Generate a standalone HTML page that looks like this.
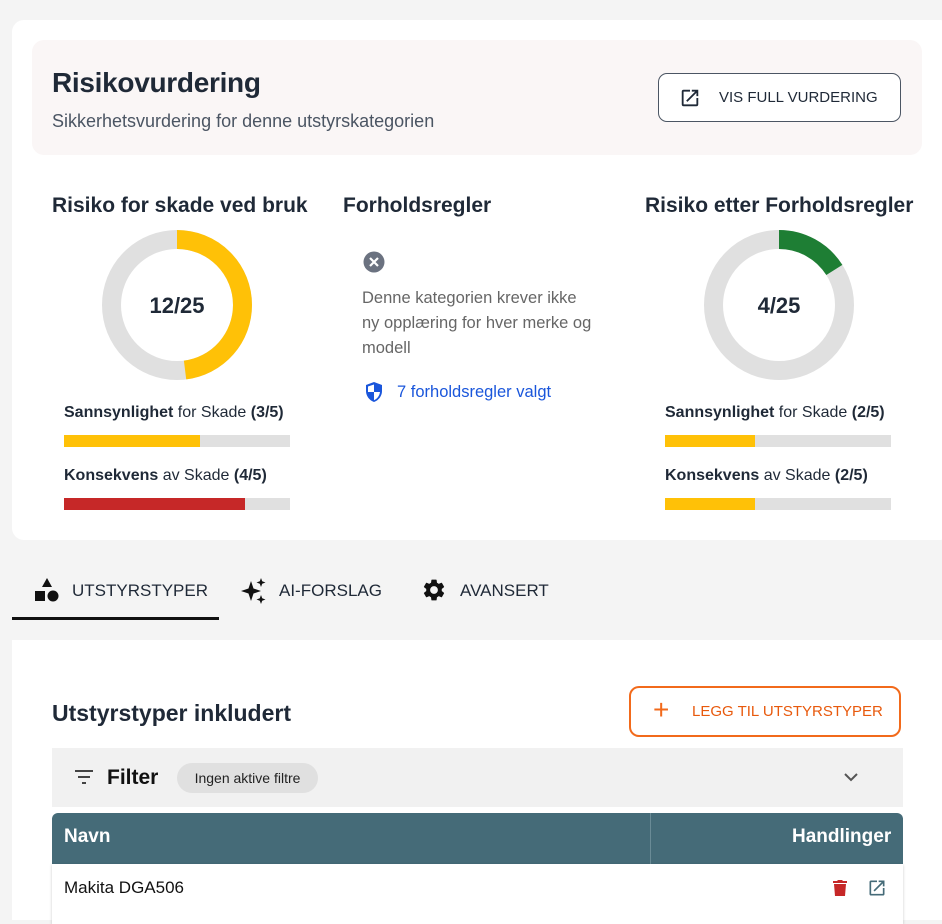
<!DOCTYPE html>
<html><head><meta charset="utf-8"><style>
*{box-sizing:border-box;margin:0;padding:0}
body{width:942px;height:910px;background:#f4f4f4;font-family:"Liberation Sans",sans-serif;color:#222b38;position:relative;overflow:hidden}
.a{position:absolute}
.card{left:12px;top:20px;width:940px;height:520px;background:#fff;border-radius:12px}
.hdr{left:32px;top:40px;width:890px;height:115px;background:#faf6f6;border-radius:12px}
h1{font-size:28px;font-weight:bold;color:#1f2937;letter-spacing:-0.3px}
.sub{font-size:18px;color:#4b5563}
.btn{left:658px;top:73px;width:243px;height:49px;border:1.5px solid #4b5563;border-radius:9px;background:#fff;font-size:15px;color:#1f2937}
h2{font-size:21px;font-weight:bold;color:#1f2937;white-space:nowrap}
.lbl{font-size:16px;color:#1f2937;white-space:nowrap}
.bar{height:12px;width:226px;background:#e0e0e0}
.bar i{display:block;height:100%}
.mid{font-size:16.5px;color:#666;line-height:25px}
.tab{font-size:17px;color:#1f2937;top:581px}
</style></head><body>
<div class="a card"></div>
<div class="a hdr"></div>
<h1 class="a" style="left:52px;top:67px">Risikovurdering</h1>
<div class="a sub" style="left:52px;top:111px">Sikkerhetsvurdering for denne utstyrskategorien</div>
<div class="a btn">
<svg class="a" style="left:20px;top:13px" width="22" height="22" viewBox="0 0 24 24"><path d="M19 19H5V5h7V3H5a2 2 0 0 0-2 2v14a2 2 0 0 0 2 2h14a2 2 0 0 0 2-2v-7h-2v7zM14 3v2h3.6l-9.8 9.8 1.4 1.4L19 6.4V10h2V3h-7z" fill="#1f2937"/></svg>
<span class="a" style="left:60px;top:15px">VIS FULL VURDERING</span></div>

<h2 class="a" style="left:52px;top:194px">Risiko for skade ved bruk</h2>
<h2 class="a" style="left:343px;top:194px">Forholdsregler</h2>
<h2 class="a" style="left:645px;top:194px">Risiko etter Forholdsregler</h2>

<svg class="a" style="left:102px;top:230px" width="150" height="150"><circle cx="75" cy="75" r="65.5" fill="none" stroke="#e0e0e0" stroke-width="19"/><circle cx="75" cy="75" r="65.5" fill="none" stroke="#ffc107" stroke-width="19" stroke-dasharray="197.6 500" transform="rotate(-90 75 75)"/><text x="75" y="83" text-anchor="middle" font-size="22" font-weight="bold" fill="#1f2937" font-family="Liberation Sans">12/25</text></svg>
<svg class="a" style="left:704px;top:230px" width="150" height="150"><circle cx="75" cy="75" r="65.5" fill="none" stroke="#e0e0e0" stroke-width="19"/><circle cx="75" cy="75" r="65.5" fill="none" stroke="#1e7e34" stroke-width="19" stroke-dasharray="65.9 500" transform="rotate(-90 75 75)"/><text x="75" y="83" text-anchor="middle" font-size="22" font-weight="bold" fill="#1f2937" font-family="Liberation Sans">4/25</text></svg>

<div class="a lbl" style="left:64px;top:404px"><b>Sannsynlighet</b> for Skade <b>(3/5)</b></div>
<div class="a bar" style="left:64px;top:435px"><i style="width:60%;background:#ffc107"></i></div>
<div class="a lbl" style="left:64px;top:467px"><b>Konsekvens</b> av Skade <b>(4/5)</b></div>
<div class="a bar" style="left:64px;top:498px"><i style="width:80%;background:#c62828"></i></div>
<div class="a lbl" style="left:665px;top:404px"><b>Sannsynlighet</b> for Skade <b>(2/5)</b></div>
<div class="a bar" style="left:665px;top:435px"><i style="width:40%;background:#ffc107"></i></div>
<div class="a lbl" style="left:665px;top:467px"><b>Konsekvens</b> av Skade <b>(2/5)</b></div>
<div class="a bar" style="left:665px;top:498px"><i style="width:40%;background:#ffc107"></i></div>

<svg class="a" style="left:363px;top:251px" width="22" height="22"><circle cx="11" cy="11" r="10.5" fill="#6b7280"/><path d="M7 7l8 8M15 7l-8 8" stroke="#fff" stroke-width="2.2"/></svg>
<div class="a mid" style="left:362px;top:286px;width:232px">Denne kategorien krever ikke ny opplæring for hver merke og modell</div>
<svg class="a" style="left:364px;top:381px" width="20" height="22" viewBox="0 0 20 22"><path d="M10 1L2 4v6c0 5 3.5 9.5 8 11 4.5-1.5 8-6 8-11V4z" fill="#1a56db"/><path d="M10 3.5v7.5H4V5.5zM10 11h6c-.5 3.8-3 7-6 8.2z" fill="#fff"/></svg>
<div class="a" style="left:397px;top:383px;font-size:16.5px;color:#1a56db">7 forholdsregler valgt</div>

<svg class="a" style="left:34px;top:577px" width="26" height="26" viewBox="0 0 26 26"><path d="M13 1l5 9H8z" fill="#111"/><rect x="1" y="14" width="10" height="10" fill="#111"/><circle cx="19" cy="19" r="5.5" fill="#111"/></svg>
<div class="a tab" style="left:72px">UTSTYRSTYPER</div>
<svg class="a" style="left:240px;top:577px" width="28" height="28" viewBox="0 0 28 28"><path d="M11 4l2.5 7.5L21 14l-7.5 2.5L11 24l-2.5-7.5L1 14l7.5-2.5z" fill="#111"/><path d="M21 1l1.2 3.3 3.3 1.2-3.3 1.2L21 10l-1.2-3.3-3.3-1.2 3.3-1.2zM21 18l1.2 3.3 3.3 1.2-3.3 1.2L21 27l-1.2-3.3-3.3-1.2 3.3-1.2z" fill="#111"/></svg>
<div class="a tab" style="left:279px">AI-FORSLAG</div>
<svg class="a" style="left:421px;top:577px" width="26" height="26" viewBox="0 0 24 24"><path d="M19.14 12.94c.04-.3.06-.61.06-.94 0-.32-.02-.64-.07-.94l2.03-1.580a.49.49 0 0 0 .12-.61l-1.920-3.320a.49.49 0 0 0-.59-.22l-2.390.96c-.5-.38-1.030-.7-1.620-.94l-.36-2.540a.48.48 0 0 0-.48-.41h-3.840c-.24 0-.43.17-.47.41l-.36 2.540c-.59.24-1.130.57-1.620.94l-2.390-.96a.48.48 0 0 0-.59.22L2.74 8.87c-.12.21-.08.47.12.61l2.030 1.580c-.05.3-.09.63-.09.94s.02.64.07.94l-2.030 1.580a.49.49 0 0 0-.12.61l1.920 3.320c.12.22.37.29.59.22l2.390-.96c.5.38 1.030.7 1.620.94l.36 2.540c.05.24.24.41.48.41h3.840c.24 0 .44-.17.47-.41l.36-2.540c.59-.24 1.130-.56 1.620-.94l2.390.96c.22.08.47 0 .59-.22l1.920-3.320c.12-.22.07-.47-.12-.61l-2.010-1.580zM12 15.6A3.6 3.6 0 1 1 12 8.4a3.6 3.6 0 0 1 0 7.2z" fill="#111"/></svg>
<div class="a tab" style="left:460px">AVANSERT</div>
<div class="a" style="left:12px;top:617px;width:207px;height:3px;background:#111"></div>

<div class="a" style="left:12px;top:640px;width:940px;height:280px;background:#fff"></div>
<div class="a" style="left:52px;top:700px;font-size:23px;font-weight:bold;color:#1f2937">Utstyrstyper inkludert</div>
<div class="a" style="left:629px;top:686px;width:272px;height:51px;border:2px solid #f26a1b;border-radius:10px"></div>
<div class="a" style="left:653px;top:696px;font-size:28px;color:#f26a1b;line-height:28px">+</div>
<div class="a" style="left:692px;top:703px;font-size:15px;color:#e8590c">LEGG TIL UTSTYRSTYPER</div>
<div class="a" style="left:52px;top:748px;width:851px;height:59px;background:#f1f1f1"></div>
<svg class="a" style="left:74px;top:769px" width="20" height="16"><path d="M1 2h18M4 8h12M8 14h4" stroke="#444" stroke-width="2"/></svg>
<div class="a" style="left:107px;top:766px;font-size:21px;font-weight:bold;color:#111">Filter</div>
<div class="a" style="left:177px;top:763px;width:141px;height:30px;background:#e0e0e0;border-radius:15px;font-size:14px;color:#222;text-align:center;line-height:30px">Ingen aktive filtre</div>
<svg class="a" style="left:843px;top:772px" width="16" height="12"><path d="M2 2l6 6 6-6" stroke="#555" stroke-width="2" fill="none"/></svg>
<div class="a" style="left:52px;top:813px;width:851px;height:51px;background:#456b78;border-radius:6px 6px 0 0"></div>
<div class="a" style="left:650px;top:813px;width:1px;height:51px;background:#6a8b96"></div>
<div class="a" style="left:64px;top:826px;font-size:19px;font-weight:bold;color:#fff">Navn</div>
<div class="a" style="left:792px;top:826px;font-size:19px;font-weight:bold;color:#fff">Handlinger</div>
<div class="a" style="left:52px;top:864px;width:851px;height:60px;background:#fff;box-shadow:0 1px 3px rgba(0,0,0,.2)"></div>
<div class="a" style="left:64px;top:878px;font-size:17px;color:#111">Makita DGA506</div>
<svg class="a" style="left:832px;top:879px" width="16" height="18" viewBox="0 0 16 18"><path d="M2 5h12l-1 12H3zM1 2h4l1-1h4l1 1h4v2H1z" fill="#c62828"/></svg>
<svg class="a" style="left:867px;top:878px" width="20" height="20" viewBox="0 0 24 24"><path d="M19 19H5V5h7V3H5a2 2 0 0 0-2 2v14a2 2 0 0 0 2 2h14a2 2 0 0 0 2-2v-7h-2v7zM14 3v2h3.6l-9.8 9.8 1.4 1.4L19 6.4V10h2V3h-7z" fill="#456b78"/></svg>
</body></html>
